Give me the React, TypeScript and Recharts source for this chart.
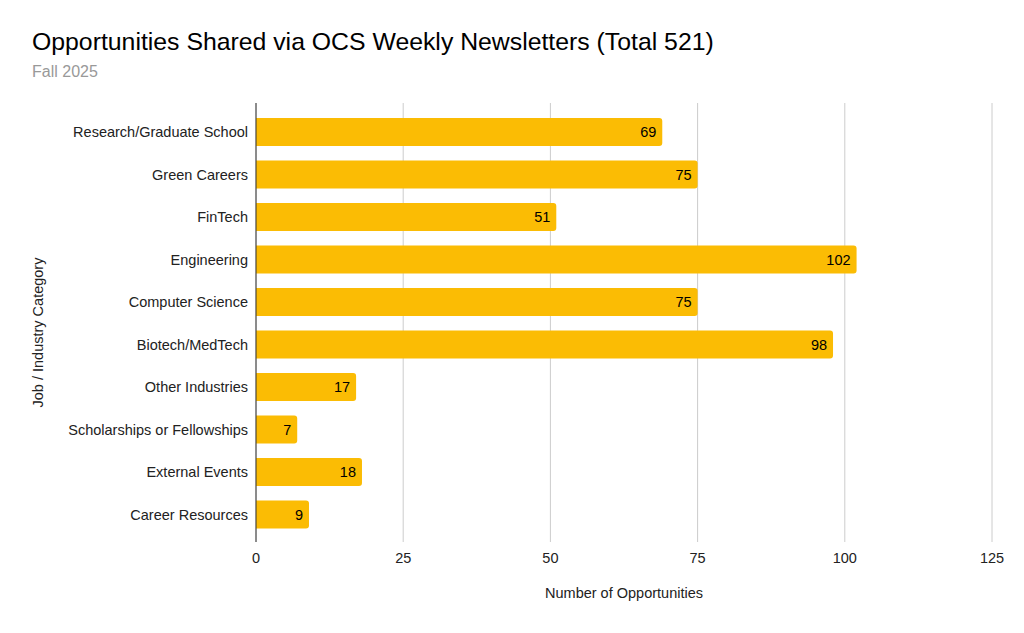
import { BarChart, Bar, XAxis, YAxis, CartesianGrid, LabelList, Label } from 'recharts';

const categories = [
  'Research/Graduate School',
  'Green Careers',
  'FinTech',
  'Engineering',
  'Computer Science',
  'Biotech/MedTech',
  'Other Industries',
  'Scholarships or Fellowships',
  'External Events',
  'Career Resources',
];
const counts = [69, 75, 51, 102, 75, 98, 17, 7, 18, 9];
const xTicks = [0, 25, 50, 75, 100, 125];

const data = categories.map((name, i) => ({ name, count: counts[i] }));

const font = 'Arial, "Liberation Sans", Helvetica, sans-serif';

export default function App() {
  return (
    <div style={{ position: 'fixed', top: 0, left: 0, width: 1024, height: 633, background: '#fff', fontFamily: font }}>
      <div style={{ position: 'absolute', left: 32, top: 28, fontSize: 24.8, color: '#000', whiteSpace: 'nowrap' }}>
        Opportunities Shared via OCS Weekly Newsletters (Total 521)
      </div>
      <div style={{ position: 'absolute', left: 32, top: 63, fontSize: 16, color: '#999' }}>
        Fall 2025
      </div>
      <BarChart
        width={1024}
        height={633}
        data={data}
        layout="vertical"
        margin={{ top: 103, right: 32, bottom: 0, left: 16 }}
        barSize={28}
      >
        <CartesianGrid horizontal={false} stroke="#ccc" />
        <XAxis
          type="number"
          domain={[0, 125]}
          ticks={xTicks}
          axisLine={false}
          tickLine={false}
          tick={{ fill: '#222', fontSize: 14.5, fontFamily: font }}
          tickMargin={5}
          height={91}
        >
          <Label
            value="Number of Opportunities"
            position="insideTop"
            offset={46}
            style={{ fill: '#222', fontSize: 14.5, fontFamily: font }}
          />
        </XAxis>
        <YAxis
          type="category"
          dataKey="name"
          width={240}
          axisLine={{ stroke: '#333' }}
          tickLine={false}
          tickSize={0}
          tickMargin={8}
          padding={{ top: 8, bottom: 6 }}
          tick={{ fill: '#222', fontSize: 14.5, fontFamily: font }}
          interval={0}
        >
          <Label
            content={({ viewBox }: any) => {
              const x = viewBox.x + 22;
              const y = viewBox.y + viewBox.height / 2 + 10;
              return (
                <text
                  x={x}
                  y={y}
                  transform={`rotate(-90 ${x} ${y})`}
                  textAnchor="middle"
                  dominantBaseline="central"
                  fill="#222"
                  fontSize={14.5}
                  fontFamily={font}
                >
                  Job / Industry Category
                </text>
              );
            }}
          />
        </YAxis>
        <Bar dataKey="count" fill="#fbbc04" radius={[0, 3, 3, 0]} isAnimationActive={false}>
          <LabelList
            dataKey="count"
            position="insideRight"
            offset={6}
            style={{ fill: '#000', fontSize: 14.5, fontFamily: font }}
          />
        </Bar>
      </BarChart>
    </div>
  );
}
